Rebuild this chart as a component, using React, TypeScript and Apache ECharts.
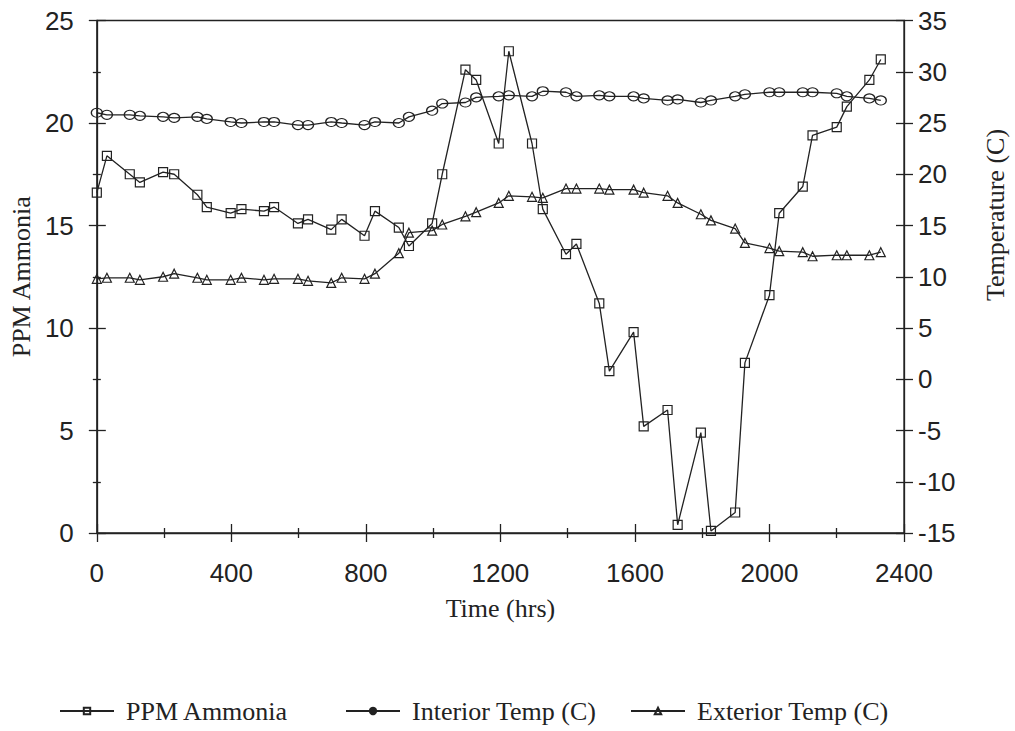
import React, { useEffect, useRef } from "react";
import * as echarts from "echarts";

const hours = [0, 30, 98, 128, 197, 230, 299, 327, 398, 430, 497, 527, 598, 628, 697, 728, 796, 827, 898, 928, 997, 1027, 1096, 1128, 1195, 1225, 1294, 1326, 1395, 1426, 1494, 1524, 1596, 1626, 1697, 1727, 1796, 1826, 1898, 1927, 2000, 2029, 2099, 2128, 2200, 2230, 2297, 2331];
const ppmAmmonia = [16.6, 18.4, 17.5, 17.1, 17.6, 17.5, 16.5, 15.9, 15.6, 15.8, 15.7, 15.9, 15.1, 15.3, 14.8, 15.3, 14.5, 15.7, 14.9, 14.0, 15.1, 17.5, 22.6, 22.1, 19.0, 23.5, 19.0, 15.8, 13.6, 14.1, 11.2, 7.9, 9.8, 5.2, 6.0, 0.4, 4.9, 0.1, 1.0, 8.3, 11.6, 15.6, 16.9, 19.4, 19.8, 20.8, 22.1, 23.1];
const interiorTemp = [26.0, 25.8, 25.8, 25.7, 25.6, 25.5, 25.6, 25.4, 25.1, 25.0, 25.1, 25.1, 24.8, 24.8, 25.1, 25.0, 24.8, 25.1, 25.0, 25.6, 26.2, 26.9, 27.0, 27.5, 27.6, 27.7, 27.6, 28.1, 28.0, 27.6, 27.7, 27.6, 27.6, 27.4, 27.2, 27.3, 27.0, 27.2, 27.6, 27.8, 28.0, 28.0, 28.0, 28.0, 27.9, 27.6, 27.4, 27.2];
const exteriorTemp = [9.8, 9.9, 9.9, 9.7, 10.0, 10.3, 9.9, 9.7, 9.7, 9.9, 9.7, 9.8, 9.8, 9.6, 9.4, 9.9, 9.8, 10.3, 12.3, 14.3, 14.5, 15.1, 15.9, 16.3, 17.2, 17.9, 17.8, 17.7, 18.6, 18.6, 18.6, 18.5, 18.5, 18.2, 17.9, 17.2, 16.1, 15.5, 14.7, 13.3, 12.8, 12.5, 12.4, 12.0, 12.1, 12.1, 12.1, 12.4];

const seriesNames = ["PPM Ammonia", "Interior Temp (C)", "Exterior Temp (C)"];
const xAxisTitle = "Time (hrs)";
const leftAxisTitle = "PPM Ammonia";
const rightAxisTitle = "Temperature (C)";

const INK = "#222";
const SANS = "Liberation Sans, Arial, Helvetica, sans-serif";
const SERIF = "Liberation Serif, Times New Roman, serif";

function pairs(ys: number[]) {
  return hours.map((h, i) => [h, ys[i]]);
}

export default function App() {
  const ref = useRef<HTMLDivElement>(null);
  useEffect(() => {
    document.body.style.margin = "0";
    const chart = echarts.init(ref.current!, null, { renderer: "svg" });
    const lineStyle = { color: INK, width: 1.3 };
    const hollow = { color: "none", borderColor: INK, borderWidth: 1.2 };
    const tickLine = { color: INK, width: 1.3 };
    const labelStyle = { fontFamily: SANS, fontSize: 26, color: INK, formatter: (v: number) => String(v) };
    const option: any = {
      animation: false,
      backgroundColor: "#fff",
      grid: {
        left: 96,
        right: 111,
        top: 20.5,
        bottom: 198,
        show: true,
        borderColor: INK,
        borderWidth: 1.3,
        backgroundColor: "transparent",
      },
      xAxis: [
        {
          type: "value",
          position: "bottom",
          min: 0,
          max: 2400,
          interval: 400,
          axisLine: { show: true, onZero: false, lineStyle: tickLine },
          axisTick: { show: true, length: 9, lineStyle: tickLine },
          minorTick: { show: true, splitNumber: 2, length: 5, lineStyle: tickLine },
          splitLine: { show: false },
          axisLabel: { ...labelStyle, margin: 27 },
          name: xAxisTitle,
          nameLocation: "middle",
          nameGap: 62,
          nameTextStyle: { fontFamily: SERIF, fontSize: 26, color: INK },
        },
        {
          type: "value",
          position: "bottom",
          min: 0,
          max: 2400,
          interval: 400,
          axisLine: { show: false, onZero: false },
          axisTick: { show: true, inside: true, length: 9, lineStyle: tickLine },
          minorTick: { show: true, splitNumber: 2, length: 5, lineStyle: tickLine },
          splitLine: { show: false },
          axisLabel: { show: false },
        },
      ],
      yAxis: [
        {
          type: "value",
          position: "left",
          min: 0,
          max: 25,
          interval: 5,
          axisLine: { show: true, onZero: false, lineStyle: tickLine },
          axisTick: { show: true, length: 8, lineStyle: tickLine },
          minorTick: { show: true, splitNumber: 2, length: 4, lineStyle: tickLine },
          splitLine: { show: false },
          axisLabel: { ...labelStyle, margin: 23 },
          name: leftAxisTitle,
          nameLocation: "middle",
          nameRotate: 90,
          nameGap: 60,
          nameTextStyle: { fontFamily: SERIF, fontSize: 26, color: INK },
        },
        {
          type: "value",
          position: "right",
          min: -15,
          max: 35,
          interval: 5,
          axisLine: { show: true, onZero: false, lineStyle: tickLine },
          axisTick: { show: true, length: 9, lineStyle: tickLine },
          splitLine: { show: false },
          axisLabel: { ...labelStyle, margin: 14 },
        },
        {
          type: "value",
          position: "left",
          min: 0,
          max: 25,
          interval: 5,
          axisLine: { show: false, onZero: false },
          axisTick: { show: true, inside: true, length: 9, lineStyle: tickLine },
          minorTick: { show: true, splitNumber: 2, length: 4, lineStyle: tickLine },
          splitLine: { show: false },
          axisLabel: { show: false },
        },
        {
          type: "value",
          position: "right",
          min: -15,
          max: 35,
          interval: 5,
          axisLine: { show: false, onZero: false },
          axisTick: { show: true, inside: true, length: 8, lineStyle: tickLine },
          splitLine: { show: false },
          axisLabel: { show: false },
        },
      ],
      legend: [0, 1, 2].map((i) => ({
        left: [54, 340, 625][i],
        top: 693,
        itemWidth: 54,
        itemHeight: 8,
        data: [
          i === 1
            ? { name: seriesNames[i], itemStyle: { color: INK, borderColor: INK } }
            : { name: seriesNames[i] },
        ],
        textStyle: { fontFamily: SERIF, fontSize: 26, color: INK, padding: [0, 0, 0, 7] },
        selectedMode: false,
      })),
      graphic: [
        {
          type: "text",
          x: 995,
          y: 215,
          rotation: Math.PI / 2,
          style: {
            text: rightAxisTitle,
            font: `26px ${SERIF}`,
            fill: INK,
            textAlign: "center",
            textVerticalAlign: "middle",
          },
        },
      ],
      series: [
        {
          name: seriesNames[0],
          type: "line",
          xAxisIndex: 0,
          yAxisIndex: 0,
          data: pairs(ppmAmmonia),
          symbol: "rect",
          symbolSize: 9,
          lineStyle,
          itemStyle: hollow,
          z: 3,
        },
        {
          name: seriesNames[1],
          type: "line",
          xAxisIndex: 0,
          yAxisIndex: 1,
          data: pairs(interiorTemp),
          symbol: "circle",
          symbolSize: [11, 9],
          lineStyle,
          itemStyle: hollow,
          z: 2,
        },
        {
          name: seriesNames[2],
          type: "line",
          xAxisIndex: 0,
          yAxisIndex: 1,
          data: pairs(exteriorTemp),
          symbol: "triangle",
          symbolSize: 9,
          lineStyle,
          itemStyle: hollow,
          z: 2,
        },
      ],
    };
    chart.setOption(option);
    return () => chart.dispose();
  }, []);
  return <div ref={ref} style={{ width: 1015, height: 731 }} />;
}
